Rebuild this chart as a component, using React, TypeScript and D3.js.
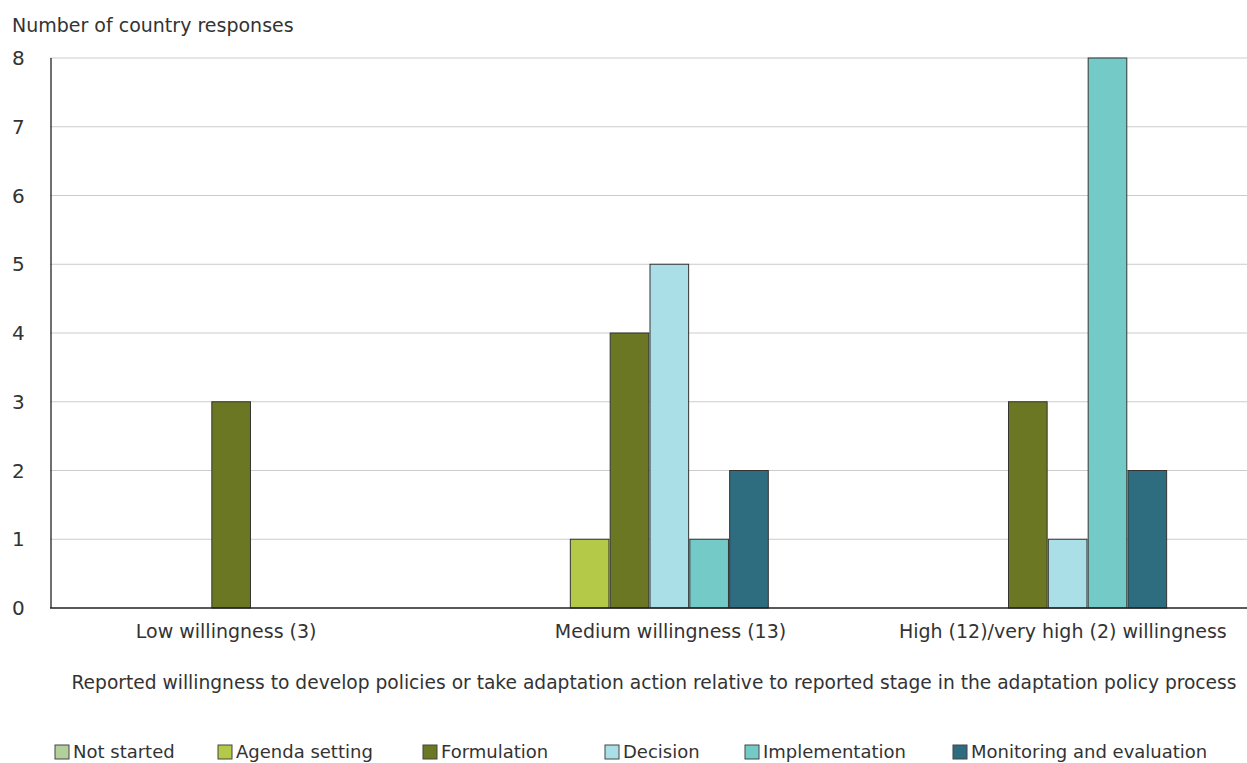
import React from "react";
import * as d3 from "d3";

const categories = ["Low willingness (3)", "Medium willingness (13)", "High (12)/very high (2) willingness"];
const seriesNames = ["Not started", "Agenda setting", "Formulation", "Decision", "Implementation", "Monitoring and evaluation"];
const notStarted = [0, 0, 0];
const agendaSetting = [0, 1, 0];
const formulation = [3, 4, 3];
const decision = [0, 5, 1];
const implementation = [0, 1, 8];
const monitoring = [0, 2, 2];
const yTicks = [0, 1, 2, 3, 4, 5, 6, 7, 8];
const colors = ["#b2d09b", "#b4c947", "#6b7722", "#abdfe8", "#74cac6", "#2e6c80"];
const labelShift = [-25, 21, 15];
const legendX = [55, 218, 423, 605, 745, 953];

const seriesValues = [notStarted, agendaSetting, formulation, decision, implementation, monitoring];

export default function App() {
  const W = 1247, H = 763;
  const left = 52, right = 1247, top = 58, bottom = 608;
  const x0 = d3.scaleBand<string>().domain(categories).range([left, right]).paddingInner(0.4).paddingOuter(0.2);
  const x1 = d3.scaleBand<string>().domain(seriesNames).range([0, x0.bandwidth()]).paddingInner(0);
  const y = d3.scaleLinear().domain([0, 8]).range([bottom, top]);
  const font = "'DejaVu Sans', Verdana, sans-serif";
  return (
    <svg width={W} height={H} style={{ position: "absolute", left: 0, top: 0, background: "#fff" }} fontFamily={font}>
      <text x={12} y={32} fontSize={19} fill="#333">Number of country responses</text>
      {yTicks.map((t) => (
        <g key={t}>
          {t > 0 && <line x1={50} x2={right} y1={y(t)} y2={y(t)} stroke="#cccccc" strokeWidth={1} />}
          <text x={12} y={y(t)} dy="0.36em" fontSize={20} fill="#333">{t}</text>
        </g>
      ))}
      {categories.map((c, ci) => (
        <g key={c} transform={`translate(${x0(c)},0)`}>
          {seriesNames.map((s, si) => {
            const v = seriesValues[si][ci];
            return (
              <rect key={s} x={x1(s)! + 0.5} y={y(v)} width={x1.bandwidth() - 1.2} height={bottom - y(v)}
                fill={colors[si]} stroke="#333" strokeWidth={1} />
            );
          })}
        </g>
      ))}
      <line x1={51} x2={51} y1={top} y2={bottom} stroke="#222" strokeWidth={1.3} />
      <line x1={50} x2={right} y1={bottom} y2={bottom} stroke="#222" strokeWidth={1.3} />
      {categories.map((c, ci) => (
        <text key={c} x={x0(c)! + x0.bandwidth() / 2 + labelShift[ci]} y={638} textAnchor="middle" fontSize={19} fill="#333">{c}</text>
      ))}
      <text x={654} y={689} textAnchor="middle" fontSize={18.65} fill="#333">
        Reported willingness to develop policies or take adaptation action relative to reported stage in the adaptation policy process
      </text>
      {seriesNames.map((s, si) => (
        <g key={s} transform={`translate(${legendX[si]},745)`}>
          <rect x={0} y={0} width={14} height={14} fill={colors[si]} stroke="#444" strokeWidth={1} />
          <text x={18} y={7} dy="0.36em" fontSize={18} fill="#333">{s}</text>
        </g>
      ))}
    </svg>
  );
}
